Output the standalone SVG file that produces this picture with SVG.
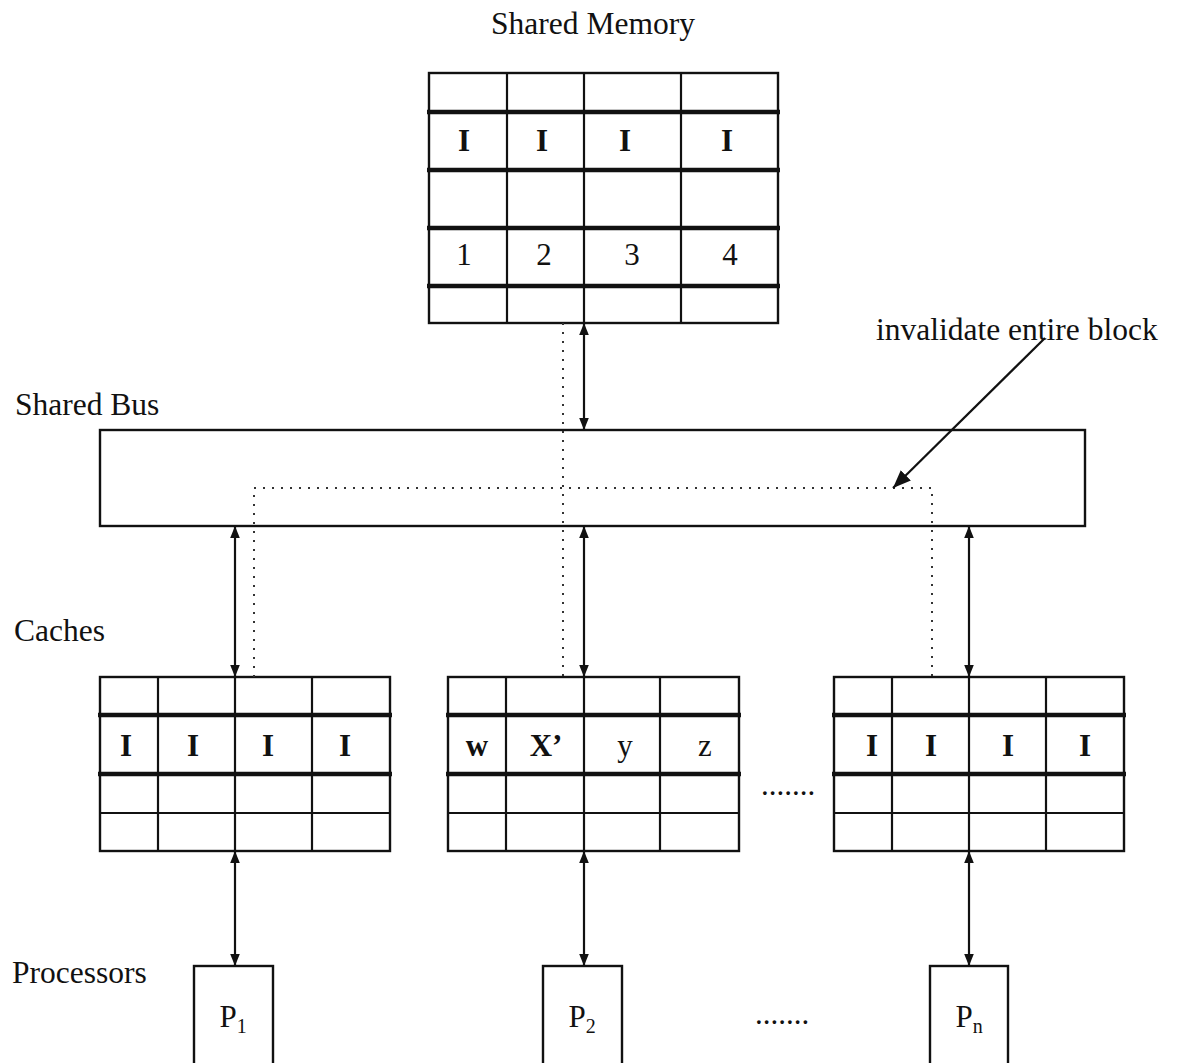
<svg xmlns="http://www.w3.org/2000/svg" width="1178" height="1063" viewBox="0 0 1178 1063">
<style>
.lbl{font-family:"Liberation Serif","Times New Roman",serif;font-size:31.5px;fill:#111}
.cell{font-family:"Liberation Serif","Times New Roman",serif;font-size:31px;fill:#111;text-anchor:middle}
.b{font-weight:bold}
.box{fill:#fff;stroke:#111;stroke-width:2.4}
.thin{stroke:#111;stroke-width:2.2}
.thick{stroke:#111;stroke-width:4.5}
.conn{stroke:#111;stroke-width:2.2;fill:none}
.dot{stroke:#333;stroke-width:2;fill:none;stroke-dasharray:2,7}
</style>
<defs>
<marker id="ah" viewBox="0 0 10 10" refX="10" refY="5" markerWidth="12" markerHeight="12" markerUnits="userSpaceOnUse" orient="auto-start-reverse">
<path d="M0,1 L10,5 L0,9 z" fill="#111"/>
</marker>
<marker id="ah2" viewBox="0 0 10 10" refX="10" refY="5" markerWidth="18" markerHeight="18" markerUnits="userSpaceOnUse" orient="auto">
<path d="M0,1 L10,5 L0,9 z" fill="#111"/>
</marker>
</defs>

<text class="lbl" x="593" y="34" text-anchor="middle">Shared Memory</text>
<text class="lbl" x="15" y="415">Shared Bus</text>
<text class="lbl" x="14" y="641">Caches</text>
<text class="lbl" x="12" y="983">Processors</text>
<text class="lbl" x="876" y="340" font-size="32">invalidate entire block</text>

<g id="memory">
<rect class="box" x="429" y="73" width="349" height="250"/>
<line class="thin" x1="507" y1="73" x2="507" y2="323"/>
<line class="thin" x1="584" y1="73" x2="584" y2="323"/>
<line class="thin" x1="681" y1="73" x2="681" y2="323"/>
<line class="thick" x1="427" y1="112" x2="780" y2="112"/>
<line class="thick" x1="427" y1="170" x2="780" y2="170"/>
<line class="thick" x1="427" y1="228" x2="780" y2="228"/>
<line class="thick" x1="427" y1="286" x2="780" y2="286"/>
<text class="cell b" x="464" y="151">I</text>
<text class="cell b" x="542" y="151">I</text>
<text class="cell b" x="625" y="151">I</text>
<text class="cell b" x="727" y="151">I</text>
<text class="cell" x="464" y="265">1</text>
<text class="cell" x="544" y="265">2</text>
<text class="cell" x="632" y="265">3</text>
<text class="cell" x="730" y="265">4</text>
</g>

<g id="bus">
<rect class="box" x="100" y="430" width="985" height="96"/>
</g>

<g id="cache1">
<rect class="box" x="100" y="677" width="290" height="174"/>
<line class="thin" x1="158" y1="677" x2="158" y2="851"/>
<line class="thin" x1="235" y1="677" x2="235" y2="851"/>
<line class="thin" x1="312" y1="677" x2="312" y2="851"/>
<line class="thick" x1="98" y1="715" x2="392" y2="715"/>
<line class="thick" x1="98" y1="774" x2="392" y2="774"/>
<line class="thin" x1="100" y1="813" x2="390" y2="813"/>
<text class="cell b" x="126" y="756">I</text>
<text class="cell b" x="193" y="756">I</text>
<text class="cell b" x="268" y="756">I</text>
<text class="cell b" x="345" y="756">I</text>
</g>

<g id="cache2">
<rect class="box" x="448" y="677" width="291" height="174"/>
<line class="thin" x1="506" y1="677" x2="506" y2="851"/>
<line class="thin" x1="584" y1="677" x2="584" y2="851"/>
<line class="thin" x1="660" y1="677" x2="660" y2="851"/>
<line class="thick" x1="446" y1="715" x2="741" y2="715"/>
<line class="thick" x1="446" y1="774" x2="741" y2="774"/>
<line class="thin" x1="448" y1="813" x2="739" y2="813"/>
<text class="cell b" x="477" y="756">w</text>
<text class="cell b" x="546" y="756">X’</text>
<text class="cell" x="625" y="756">y</text>
<text class="cell" x="705" y="756">z</text>
</g>

<g id="cacheN">
<rect class="box" x="834" y="677" width="290" height="174"/>
<line class="thin" x1="892" y1="677" x2="892" y2="851"/>
<line class="thin" x1="969" y1="677" x2="969" y2="851"/>
<line class="thin" x1="1046" y1="677" x2="1046" y2="851"/>
<line class="thick" x1="832" y1="715" x2="1126" y2="715"/>
<line class="thick" x1="832" y1="774" x2="1126" y2="774"/>
<line class="thin" x1="834" y1="813" x2="1124" y2="813"/>
<text class="cell b" x="872" y="756">I</text>
<text class="cell b" x="931" y="756">I</text>
<text class="cell b" x="1008" y="756">I</text>
<text class="cell b" x="1085" y="756">I</text>
</g>

<text class="cell" x="788" y="795" font-size="28" fill="#333">.......</text>

<g id="p1">
<rect class="box" x="194" y="966" width="79" height="105"/>
<text class="cell" x="233" y="1027" font-size="33">P<tspan font-size="20" dy="6">1</tspan></text>
</g>
<g id="p2">
<rect class="box" x="543" y="966" width="79" height="105"/>
<text class="cell" x="582" y="1027" font-size="33">P<tspan font-size="20" dy="6">2</tspan></text>
</g>
<g id="pn">
<rect class="box" x="930" y="966" width="78" height="105"/>
<text class="cell" x="969" y="1027" font-size="33">P<tspan font-size="20" dy="6">n</tspan></text>
</g>

<text class="cell" x="782" y="1024" font-size="28" fill="#333">.......</text>

<g id="connectors">
<path class="dot" d="M254,677 V488 H932 V677"/>
<path class="dot" d="M563,323 V677"/>
<line class="conn" x1="584" y1="323" x2="584" y2="430" marker-start="url(#ah)" marker-end="url(#ah)"/>
<line class="conn" x1="235" y1="526" x2="235" y2="677" marker-start="url(#ah)" marker-end="url(#ah)"/>
<line class="conn" x1="584" y1="526" x2="584" y2="677" marker-start="url(#ah)" marker-end="url(#ah)"/>
<line class="conn" x1="969" y1="526" x2="969" y2="677" marker-start="url(#ah)" marker-end="url(#ah)"/>
<line class="conn" x1="235" y1="851" x2="235" y2="966" marker-start="url(#ah)" marker-end="url(#ah)"/>
<line class="conn" x1="584" y1="851" x2="584" y2="966" marker-start="url(#ah)" marker-end="url(#ah)"/>
<line class="conn" x1="969" y1="851" x2="969" y2="966" marker-start="url(#ah)" marker-end="url(#ah)"/>
<line class="conn" x1="1045" y1="338" x2="893" y2="488" stroke-width="3" marker-end="url(#ah2)"/>
</g>
</svg>
